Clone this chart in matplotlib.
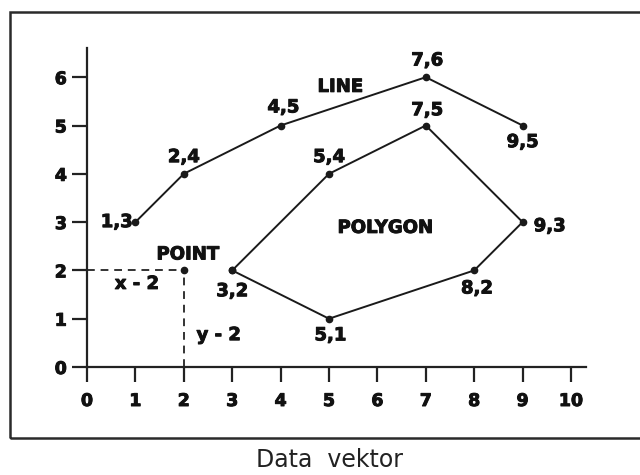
import matplotlib
matplotlib.use("Agg")
import matplotlib.pyplot as plt
import matplotlib.patheffects as pe
from matplotlib.patches import Rectangle

# data
line_x = [1, 2, 4, 7, 9]
line_y = [3, 4, 5, 6, 5]
poly_x = [3, 5, 7, 9, 8, 5, 3]
poly_y = [2, 4, 5, 3, 2, 1, 2]
point_x = [2]
point_y = [2]
x_ticks = [0, 1, 2, 3, 4, 5, 6, 7, 8, 9, 10]
y_ticks = [0, 1, 2, 3, 4, 5, 6]
caption = "Data  vektor"

plt.rcParams['font.family'] = ['DejaVu Sans']
fig = plt.figure(figsize=(6.4, 4.75), dpi=100)
W, H = 640, 475
x0px, y0px = 87, 367
ppu_x, ppu_y = 48.4, 48.3
xmax, ymax = 10.3, 6.6
ax = fig.add_axes([x0px / W, (H - y0px) / H, xmax * ppu_x / W, ymax * ppu_y / H])
ax.set_xlim(0, xmax)
ax.set_ylim(0, ymax)
ax.set_facecolor('none')
for s in ['top', 'right']:
    ax.spines[s].set_visible(False)
for s in ['left', 'bottom']:
    ax.spines[s].set_linewidth(1.6)
    ax.spines[s].set_color('#222222')
ax.set_xticks(x_ticks)
ax.set_yticks(y_ticks)
ax.tick_params(direction='out', length=11, width=1.6, color='#222222',
               labelsize=12.5)
heavy = [pe.withStroke(linewidth=0.7, foreground='#111111')]
for lab in ax.get_xticklabels() + ax.get_yticklabels():
    lab.set_fontweight('bold')
    lab.set_color('#111111')
    lab.set_path_effects(heavy)
ax.get_xaxis().set_tick_params(pad=7)
ax.get_yaxis().set_tick_params(pad=3.5)

lc = '#1a1a1a'
ax.plot(line_x, line_y, color=lc, lw=1.4, marker='o', ms=4.5, clip_on=False)
ax.plot(poly_x, poly_y, color=lc, lw=1.4, marker='o', ms=4.5, clip_on=False)
# dashed guide lines for the point
ax.plot([0, point_x[0]], [point_y[0], point_y[0]], color='#333333', lw=1.4,
        ls=(0, (4, 3)), clip_on=False)
ax.plot([point_x[0], point_x[0]], [0, point_y[0]], color='#333333', lw=1.4,
        ls=(0, (4, 3)), clip_on=False)
ax.plot(point_x, point_y, 'o', color=lc, ms=4.5, clip_on=False)

fs = 13
kw = dict(fontsize=fs, fontweight='bold', color='#111111',
          textcoords='offset points', annotation_clip=False, path_effects=heavy)

# (dx, dy, ha) in points for each coordinate label
line_pos = [(-2, 0, 'right'), (0, 12, 'center'), (2, 13, 'center'),
            (1, 12, 'center'), (0, -12, 'center')]
for (x, y), (dx, dy, ha) in zip(zip(line_x, line_y), line_pos):
    ax.annotate(f"{x},{y}", (x, y), xytext=(dx, dy), ha=ha, va='center', **kw)

poly_pos = [(0, -15, 'center'), (0, 12, 'center'), (1, 11, 'center'),
            (8, -3, 'left'), (2, -13, 'center'), (1, -12, 'center')]
for (x, y), (dx, dy, ha) in zip(zip(poly_x[:-1], poly_y[:-1]), poly_pos):
    ax.annotate(f"{x},{y}", (x, y), xytext=(dx, dy), ha=ha, va='center', **kw)

tkw = dict(fontsize=fs, fontweight='bold', color='#111111', ha='center',
           va='center', path_effects=heavy)
ax.text(5.23, 5.8, "LINE", **tkw)
ax.text(6.16, 2.88, "POLYGON", **tkw)
ax.text(2.08, 2.33, "POINT", **tkw)
ax.text(1.03, 1.72, "x - 2", **tkw)
ax.text(2.72, 0.66, "y - 2", **tkw)

# outer frame
fig.patches.append(Rectangle((10 / W, (H - 438) / H), (W + 20) / W, (438 - 12) / H,
                             transform=fig.transFigure, fill=False,
                             edgecolor='#2a2a2a', lw=1.8))
fig.text(330 / W, (H - 460) / H, caption, ha='center', va='center',
         fontsize=17, color='#222222')

fig.savefig("out.png", dpi=100)
